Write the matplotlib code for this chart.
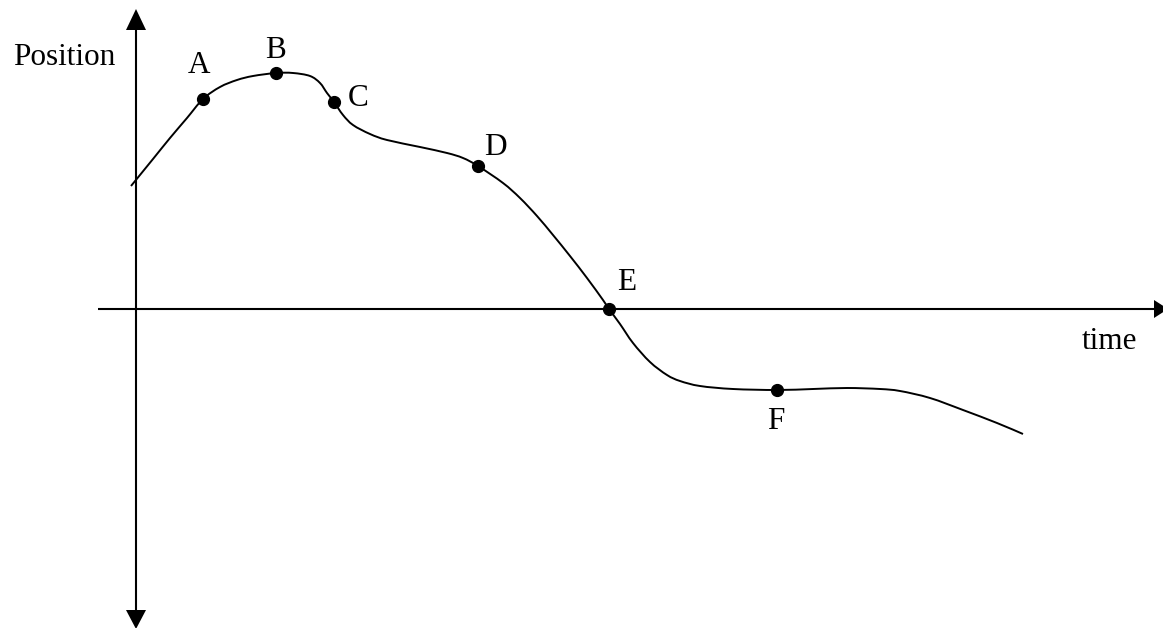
import matplotlib
matplotlib.use("Agg")
import matplotlib.pyplot as plt
from matplotlib.path import Path
from matplotlib.patches import PathPatch

# Curve (time, position) in pixel-like units
curve_t = [-5, 17, 34, 51, 67, 84, 101, 117, 140, 157, 174, 184, 191, 198, 207, 217,
           234, 251, 284, 311, 327, 342, 367, 384, 401, 417, 434, 451, 467, 473, 484,
           497, 514, 531, 544, 564, 597, 641, 677, 711, 744, 764, 794, 827, 861, 887]
curve_pos = [123, 150, 171, 191, 210, 222, 229, 233, 236, 236, 233, 226, 216, 207, 194, 184,
             175, 169, 162, 156, 151, 143, 126, 111, 93, 74, 53, 31, 9, 0, -15,
             -34, -53, -66, -72, -77, -80, -81, -80, -79, -80, -82, -89, -101, -114, -125]

point_labels = ["A", "B", "C", "D", "E", "F"]
point_t = [67, 140, 198, 342, 473, 641]
point_pos = [210, 236, 207, 143, 0, -81]

plt.rcParams['font.family'] = ['Liberation Serif', 'DejaVu Serif']

fig = plt.figure(figsize=(11.63, 6.28), dpi=100)
ax = fig.add_axes([0, 0, 1, 1])
ax.set_xlim(-136, 1027)
ax.set_ylim(-319, 309)
ax.axis('off')

lw_axis = 1.5
# vertical axis with two arrow heads
ax.plot([0, 0], [-303, 281], color='black', lw=lw_axis, solid_capstyle='butt')
ax.fill([-10, 10, 0], [279, 279, 300], color='black', lw=0)
ax.fill([-10, 10, 0], [-301, -301, -320], color='black', lw=0)
# horizontal axis with arrow head
ax.plot([-38, 1020], [0, 0], color='black', lw=lw_axis, solid_capstyle='butt')
ax.fill([1018, 1018, 1032], [-9, 9, 0], color='black', lw=0)

# smooth curve through the read points (Catmull-Rom rendered as cubic Bezier path)
pts = list(zip(curve_t, curve_pos))
verts = [pts[0]]
codes = [Path.MOVETO]
n = len(pts)
for i in range(n - 1):
    p0 = pts[i - 1] if i > 0 else pts[i]
    p1 = pts[i]
    p2 = pts[i + 1]
    p3 = pts[i + 2] if i + 2 < n else pts[i + 1]
    c1 = (p1[0] + (p2[0] - p0[0]) / 6.0, p1[1] + (p2[1] - p0[1]) / 6.0)
    c2 = (p2[0] - (p3[0] - p1[0]) / 6.0, p2[1] - (p3[1] - p1[1]) / 6.0)
    verts += [c1, c2, p2]
    codes += [Path.CURVE4, Path.CURVE4, Path.CURVE4]
ax.add_patch(PathPatch(Path(verts, codes), facecolor='none', edgecolor='black', lw=1.4))

ax.plot(point_t, point_pos, 'o', color='black', ms=8.5, zorder=5)

fs = 22.5
label_off = {
    "A": (-4, 26, 'baseline'),
    "B": (-1, 15, 'baseline'),
    "C": (24, -4, 'baseline'),
    "D": (17, 11, 'baseline'),
    "E": (18, 19, 'baseline'),
    "F": (-1, -39, 'baseline'),
}
for lab, t, p in zip(point_labels, point_t, point_pos):
    dx, dy, va = label_off[lab]
    ax.text(t + dx, p + dy, lab, fontsize=fs, ha='center', va=va)

ax.text(-21, 244, "Position", fontsize=fs, ha='right', va='baseline')
ax.text(1001, -40, "time", fontsize=fs, ha='right', va='baseline')

fig.savefig("out.png", dpi=100)
